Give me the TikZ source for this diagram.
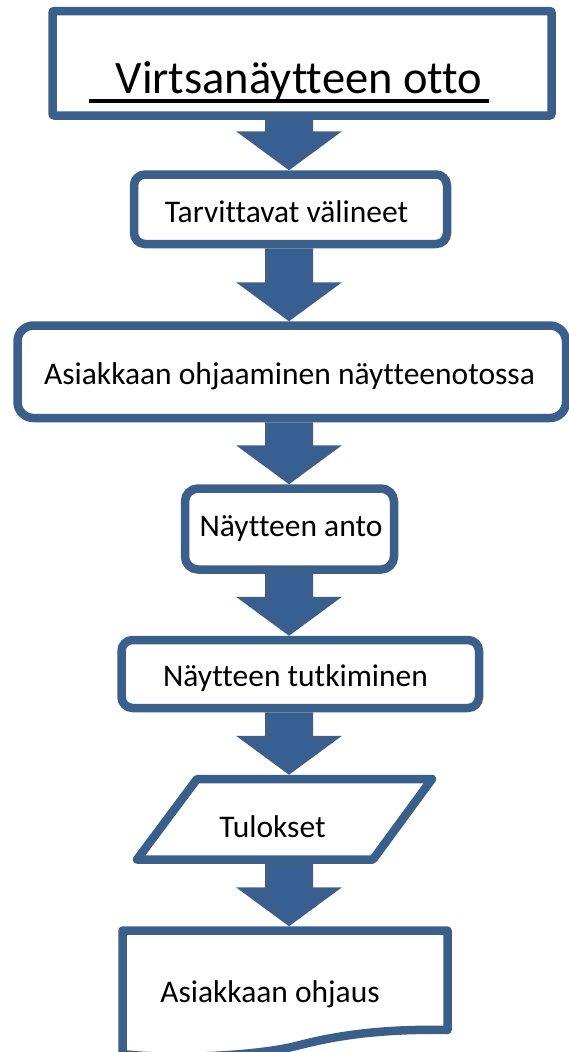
\documentclass[tikz,border=0pt]{standalone}
\usepackage{fontspec}
\setmainfont{Carlito}[Ligatures={NoCommon}]
\usetikzlibrary{calc}

\definecolor{flowblue}{RGB}{58,95,139}
\definecolor{arrowblue}{RGB}{59,94,140}
\definecolor{arrowlight}{RGB}{54,96,147}

\tikzset{
  flowbox/.style={draw=flowblue, line width=8.5pt, fill=white,
    inner sep=0pt, outer sep=4.25pt},
  flowshape/.style={draw=flowblue, line width=8.5pt, fill=white, line join=round},
  flowtext/.style={font=\fontsize{31.5}{36}\selectfont, anchor=base,
    inner sep=0pt, text=black},
  titletext/.style={font=\fontsize{46.5}{52}\selectfont, anchor=base,
    inner sep=0pt, text=black}
}

% Block arrow pointing down, from the bottom of one item to the top of the next
\newcommand\flowarrow[2]{%
  \fill[arrowblue] let \p1=(#1), \p2=(#2), \p3=(spine) in
    (\x3-24pt,\y1) -- (\x3+24pt,\y1) -- (\x3+24pt,\y2+39pt) --
    (\x3+53pt,\y2+39pt) -- (\x3,\y2) -- (\x3-53pt,\y2+39pt) --
    (\x3-24pt,\y2+39pt) -- cycle;
  \fill[arrowlight] let \p1=(#1), \p2=(#2), \p3=(spine) in
    (\x3-17pt,\y1-3pt) -- (\x3+17pt,\y1-3pt) -- (\x3+17pt,\y2+33pt) --
    (\x3+36pt,\y2+33pt) -- (\x3,\y2+8pt) -- (\x3-36pt,\y2+33pt) --
    (\x3-17pt,\y2+33pt) -- cycle;
}

\begin{document}
\begin{tikzpicture}[x=1pt,y=-1pt]
\useasboundingbox (0,0) rectangle (568,1052);
\coordinate (spine) at (289,0);

% title box
\node[flowbox, rounded corners=2pt, minimum width=499pt, minimum height=104.5pt]
  (top) at (302,63.25) {};
\node[titletext] (title) at (299,93) {Virtsanäytteen otto};
\draw[line width=4pt] ($(title.base west)+(-26pt,-7.5pt)$) -- ($(title.base east)+(6pt,-7.5pt)$);

% process steps
\node[flowbox, rounded corners=11pt, minimum width=313pt, minimum height=69.5pt]
  (tools) at (290.5,209.25) {};
\node[flowtext] at (286.5,222) {Tarvittavat välineet};

\node[flowbox, rounded corners=16pt, minimum width=548.5pt, minimum height=92.5pt]
  (guide) at (291.75,371.75) {};
\node[flowtext] at (289.5,384) {Asiakkaan ohjaaminen näytteenotossa};

\node[flowbox, rounded corners=13pt, minimum width=209pt, minimum height=81pt]
  (give) at (289.5,529) {};
\node[flowtext] at (291,536) {Näytteen anto};

\node[flowbox, rounded corners=11pt, minimum width=357.5pt, minimum height=68pt]
  (study) at (300.25,674) {};
\node[flowtext] at (295.5,686) {Näytteen tutkiminen};

% results (data parallelogram)
\draw[flowshape] (197,779) -- (432,779) -- (373,859.5) -- (137,859.5) -- cycle;
\coordinate (restop) at (289,774.75);
\coordinate (resbot) at (289,863.75);
\node[flowtext] (res) at (272.5,837) {Tulokset};

% counselling (document shape)
\draw[flowshape] (122.5,930.5) -- (447.5,930.5) -- (447.5,1030)
  .. controls (400,1029) and (350,1032) .. (300,1045)
  .. controls (260,1056) and (170,1060) .. (122.5,1054) -- cycle;
\coordinate (doctop) at (289,926.25);
\node[flowtext] (doc) at (270,1002) {Asiakkaan ohjaus};

% arrows
\flowarrow{top.south}{tools.north}
\flowarrow{tools.south}{guide.north}
\flowarrow{guide.south}{give.north}
\flowarrow{give.south}{study.north}
\flowarrow{study.south}{restop}
\flowarrow{resbot}{doctop}
\end{tikzpicture}
\end{document}
